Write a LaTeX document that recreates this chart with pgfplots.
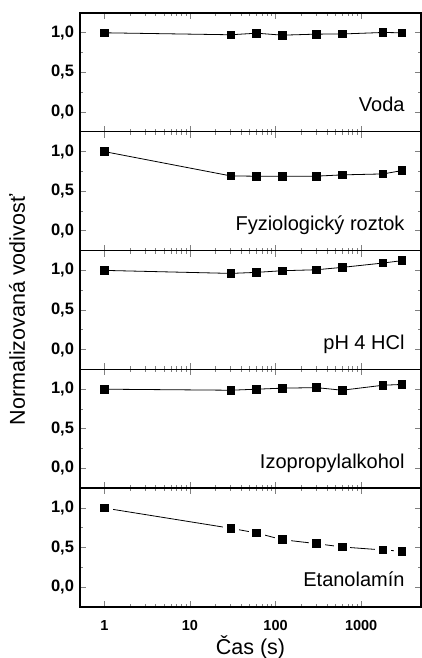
\documentclass[border=0pt]{standalone}
\usepackage{fontspec}
\setmainfont{Liberation Sans}
\usepackage{pgfplots}
\pgfplotsset{compat=1.18}
\pgfplotsset{every axis/.append style={
  scale only axis, width=341pt, height=118.8pt,
  ymin=-0.25, ymax=1.25,
  ytick={0,0.5,1}, minor ytick={0.25,0.75},
  tick align=inside, tick pos=both,
  major tick length=6pt, minor tick length=3pt,
  axis line style={line width=1.4pt},
  every tick/.append style={line width=0.8pt},
  yticklabel style={font=\fontsize{16.5}{16.5}\selectfont\bfseries, xshift=-2.5pt,
    /pgf/number format/.cd, use comma, fixed, fixed zerofill, precision=1, assume math mode=true},
  xticklabel style={font=\fontsize{14.5}{14.5}\selectfont\bfseries, yshift=-9.5pt},
}}
\tikzset{lab/.style={anchor=base east, font=\fontsize{20}{20}\selectfont}}
\begin{document}
\begin{tikzpicture}
\useasboundingbox (-80pt,-51pt) rectangle (342pt,607pt);
% Voda
\begin{axis}[xmode=log, xmin=0.52, xmax=5000, xtick={1,10,100,1000}, xticklabels={}, anchor=south west, at={(0pt,475.2pt)}]
\addplot[black, line width=0.8pt, mark=square*, mark size=3.8pt] coordinates {(1,1.0)(30,0.975)(60,0.995)(120,0.97)(300,0.983)(600,0.985)(1800,1.004)(3000,1.0)};
\node[lab] at (rel axis cs:0.962,0.17) {Voda};
\end{axis}
% Fyziologicky roztok
\begin{axis}[xmode=log, xmin=0.52, xmax=5000, xtick={1,10,100,1000}, xticklabels={}, anchor=south west, at={(0pt,356.4pt)}]
\addplot[black, line width=0.8pt, mark=square*, mark size=3.8pt] coordinates {(1,1.0)(30,0.693)(60,0.689)(120,0.689)(300,0.69)(600,0.706)(1800,0.718)(3000,0.76)};
\node[lab] at (rel axis cs:0.962,0.17) {Fyziologický roztok};
\end{axis}
% pH 4 HCl
\begin{axis}[xmode=log, xmin=0.52, xmax=5000, xtick={1,10,100,1000}, xticklabels={}, anchor=south west, at={(0pt,237.6pt)}]
\addplot[black, line width=0.8pt, mark=square*, mark size=3.8pt] coordinates {(1,1.0)(30,0.962)(60,0.975)(120,0.996)(300,1.008)(600,1.038)(1800,1.093)(3000,1.123)};
\node[lab] at (rel axis cs:0.962,0.17) {pH 4 HCl};
\end{axis}
% Izopropylalkohol
\begin{axis}[xmode=log, xmin=0.52, xmax=5000, xtick={1,10,100,1000}, xticklabels={}, anchor=south west, at={(0pt,118.8pt)}]
\addplot[black, line width=0.8pt, mark=square*, mark size=3.8pt] coordinates {(1,1.0)(30,0.987)(60,1.0)(120,1.013)(300,1.02)(600,0.987)(1800,1.05)(3000,1.06)};
\node[lab] at (rel axis cs:0.962,0.17) {Izopropylalkohol};
\end{axis}
% Etanolamin
\begin{axis}[xmode=log, xmin=0.52, xmax=5000, xtick={1,10,100,1000}, xticklabels={1,10,100,1000}, anchor=south west, at={(0pt,0pt)}]
\addplot[black, line width=0.8pt, mark=none] coordinates {(1,1.0)(30,0.744)(60,0.685)(120,0.60)(300,0.55)(600,0.508)(1800,0.47)(3000,0.454)};
\addplot[only marks, mark=square*, mark size=7.5pt, draw=white, fill=white] coordinates {(1,1.0)(30,0.744)(60,0.685)(120,0.60)(300,0.55)(600,0.508)(1800,0.47)(3000,0.454)};
\addplot[only marks, mark=square*, mark size=3.8pt, black, line width=0.8pt] coordinates {(1,1.0)(30,0.744)(60,0.685)(120,0.60)(300,0.55)(600,0.508)(1800,0.47)(3000,0.454)};
\node[lab] at (rel axis cs:0.962,0.17) {Etanolamín};
\end{axis}
\node[rotate=90, font=\fontsize{21.5}{21.5}\selectfont] at (-63pt,297pt) {Normalizovaná vodivosť};
\node[anchor=base, font=\fontsize{21.5}{21.5}\selectfont] at (170.5pt,-48pt) {Čas (s)};
\end{tikzpicture}
\end{document}
